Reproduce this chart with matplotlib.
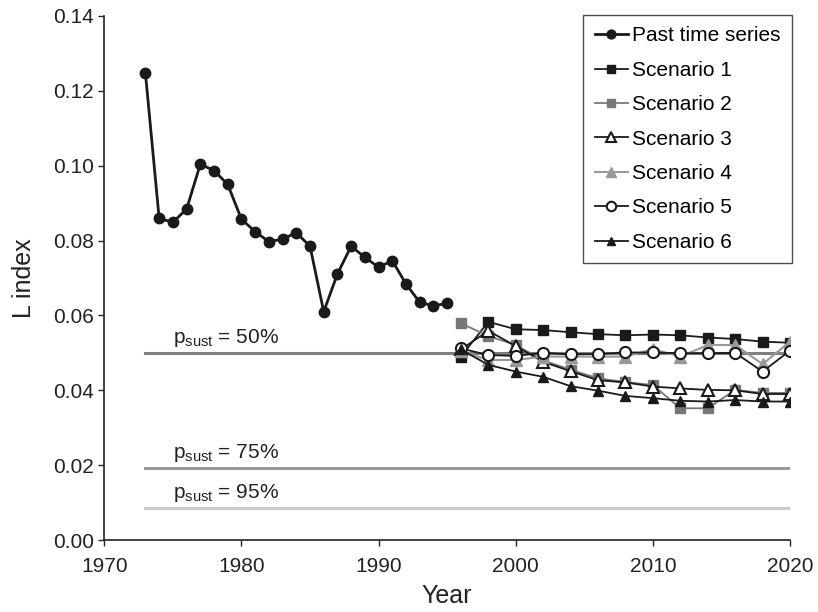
import matplotlib
matplotlib.use("Agg")
import matplotlib.pyplot as plt

plt.rcParams["font.family"] = ["Liberation Sans", "DejaVu Sans"]
plt.rcParams["mathtext.fontset"] = "custom"
plt.rcParams["mathtext.rm"] = "Liberation Sans"
plt.rcParams["mathtext.it"] = "Liberation Sans:italic"

# --- past series ---
past_years = list(range(1973, 1996))
past_vals = [0.1247, 0.0859, 0.0849, 0.0884, 0.1004, 0.0987, 0.0950, 0.0857,
             0.0824, 0.0797, 0.0804, 0.0821, 0.0785, 0.0610, 0.0711, 0.0785,
             0.0755, 0.0729, 0.0746, 0.0684, 0.0635, 0.0626, 0.0632]

# --- scenarios ---
scen_years = list(range(1996, 2021, 2))
scen1 = [0.0490, 0.0583, 0.0563, 0.0561, 0.0555, 0.0550, 0.0547, 0.0549,
         0.0547, 0.0541, 0.0537, 0.0530, 0.0527]
scen2 = [0.0579, 0.0545, 0.0521, 0.0480, 0.0455, 0.0432, 0.0422, 0.0414,
         0.0352, 0.0352, 0.0401, 0.0393, 0.0393]
scen3 = [0.0509, 0.0559, 0.0518, 0.0476, 0.0451, 0.0427, 0.0421, 0.0410,
         0.0405, 0.0401, 0.0400, 0.0390, 0.0390]
scen4 = [0.0505, 0.0481, 0.0481, 0.0490, 0.0490, 0.0490, 0.0490, 0.0510,
         0.0490, 0.0521, 0.0521, 0.0470, 0.0530]
scen5 = [0.0512, 0.0494, 0.0492, 0.0500, 0.0496, 0.0497, 0.0501, 0.0501,
         0.0499, 0.0499, 0.0500, 0.0450, 0.0506]
scen6 = [0.0509, 0.0468, 0.0450, 0.0436, 0.0411, 0.0399, 0.0385, 0.0379,
         0.0372, 0.0370, 0.0374, 0.0370, 0.0370]

# --- sustainability thresholds ---
sust_labels = ["50%", "75%", "95%"]
sust_vals = [0.0500, 0.0193, 0.0086]
sust_colors = ["#7f7f7f", "#9a9a9a", "#cacaca"]
sust_start, sust_end = 1973, 2020

fig = plt.figure(figsize=(8.18, 6.12), dpi=100)
ax = fig.add_axes([0.1275, 0.1176, 0.8383, 0.8563])

for lab, v, c in zip(sust_labels, sust_vals, sust_colors):
    ax.plot([sust_start, sust_end], [v, v], color=c, lw=2.2, zorder=1)
    ax.text(1975, v + 0.0011, r"p$_{\mathrm{sust}}$ = " + lab,
            fontsize=15, va="bottom", ha="left", color="#222222")

ax.plot(past_years, past_vals, "-o", color="#1a1a1a", lw=2, ms=7.5,
        label="Past time series", zorder=3)

dark = "#1a1a1a"
ax.plot(scen_years, scen1, "-s", color=dark, lw=1.3, ms=6.7,
        label="Scenario 1", zorder=3)
ax.plot(scen_years, scen2, "-s", color="#777777", lw=1.3, ms=6.7,
        label="Scenario 2", zorder=3)
ax.plot(scen_years, scen3, "-^", color=dark, mfc="white", mec=dark, mew=1.5,
        lw=1.3, ms=8, label="Scenario 3", zorder=3)
ax.plot(scen_years, scen4, "-^", color="#999999", lw=1.5, ms=8,
        label="Scenario 4", zorder=3)
ax.plot(scen_years, scen5, "-o", color=dark, mfc="white", mec=dark, mew=1.5,
        lw=1.3, ms=8, label="Scenario 5", zorder=3)
ax.plot(scen_years, scen6, "-^", color=dark, lw=1.3, ms=7,
        label="Scenario 6", zorder=3)

ax.set_xlim(1970, 2020)
ax.set_ylim(0, 0.14)
ax.set_xticks([1970, 1980, 1990, 2000, 2010, 2020])
ax.set_yticks([0, 0.02, 0.04, 0.06, 0.08, 0.10, 0.12, 0.14])
ax.set_yticklabels([f"{t:.2f}" for t in ax.get_yticks()])
ax.tick_params(labelsize=15, length=4, width=1, color="#222222",
               labelcolor="#222222")
ax.tick_params(axis="x", pad=8)
ax.spines["top"].set_visible(False)
ax.spines["right"].set_visible(False)
for s in ("left", "bottom"):
    ax.spines[s].set_linewidth(1.2)
    ax.spines[s].set_color("#222222")

ax.set_xlabel("Year", fontsize=18, color="#222222", labelpad=6)
ax.set_ylabel("L index", fontsize=18, color="#222222", labelpad=12)

leg = ax.legend(loc="upper right", bbox_to_anchor=(1.003, 1.002), fontsize=15,
                frameon=True, fancybox=False, edgecolor="#222222",
                handlelength=1.6, handletextpad=0.2, labelspacing=0.74,
                borderpad=0.55, borderaxespad=0.0, markerscale=0.85)
leg.get_frame().set_linewidth(1.0)

fig.savefig("out.png", dpi=100)
